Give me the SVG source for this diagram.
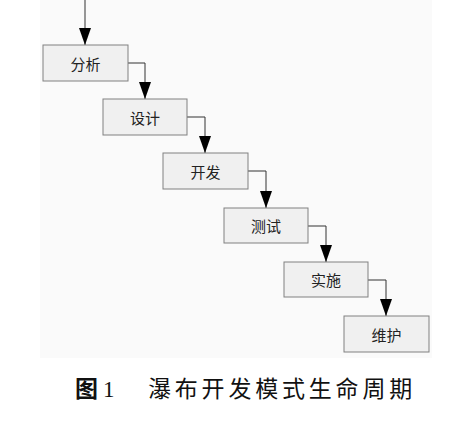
<svg xmlns="http://www.w3.org/2000/svg" width="475" height="421" viewBox="0 0 475 421">
<defs>
<style>
.box{fill:#f0f0f0;stroke:#808080;stroke-width:1}
.lbl{font-family:"Noto Sans CJK SC",sans-serif;font-size:15px;fill:#222;text-anchor:middle;dominant-baseline:central}
.con{fill:none;stroke:#333;stroke-width:1}
.cap{font-family:"Liberation Serif","Noto Sans CJK SC",serif;font-size:23px;fill:#111}
</style>
<marker id="ah" viewBox="0 0 17 12" refX="17" refY="6" markerWidth="17" markerHeight="12" markerUnits="userSpaceOnUse" orient="auto">
<path d="M0,0 L17,6 L0,12 Z" fill="#000"/>
</marker>
</defs>
<rect x="0" y="0" width="475" height="421" fill="#ffffff"/>
<rect x="40" y="0" width="392" height="358" fill="#fafafa"/>
<g id="connectors">
<path class="con" d="M85,0 V45" marker-end="url(#ah)"/>
<path class="con" d="M128,63 H145 V99" marker-end="url(#ah)"/>
<path class="con" d="M187,117 H205 V153" marker-end="url(#ah)"/>
<path class="con" d="M248,171 H266 V208" marker-end="url(#ah)"/>
<path class="con" d="M308,226 H326 V262" marker-end="url(#ah)"/>
<path class="con" d="M368,280 H386 V316" marker-end="url(#ah)"/>
</g>
<g id="n1"><rect class="box" x="43" y="45" width="85" height="36"/><text class="lbl" x="85.5" y="63">分析</text></g>
<g id="n2"><rect class="box" x="103" y="99" width="84" height="36"/><text class="lbl" x="145" y="117">设计</text></g>
<g id="n3"><rect class="box" x="163" y="153" width="85" height="36"/><text class="lbl" x="205.5" y="171">开发</text></g>
<g id="n4"><rect class="box" x="224" y="208" width="84" height="35"/><text class="lbl" x="266" y="225.5">测试</text></g>
<g id="n5"><rect class="box" x="284" y="262" width="84" height="35"/><text class="lbl" x="326" y="279.5">实施</text></g>
<g id="n6"><rect class="box" x="344" y="316" width="85" height="36"/><text class="lbl" x="386.5" y="334">维护</text></g>
<g id="caption">
<text class="cap" x="75" y="397" style="font-weight:bold;font-family:'Noto Sans CJK SC',sans-serif">图</text>
<text class="cap" x="103" y="397">1</text>
<text class="cap" x="148" y="397" style="letter-spacing:3.8px">瀑布开发模式生命周期</text>
</g>
</svg>
